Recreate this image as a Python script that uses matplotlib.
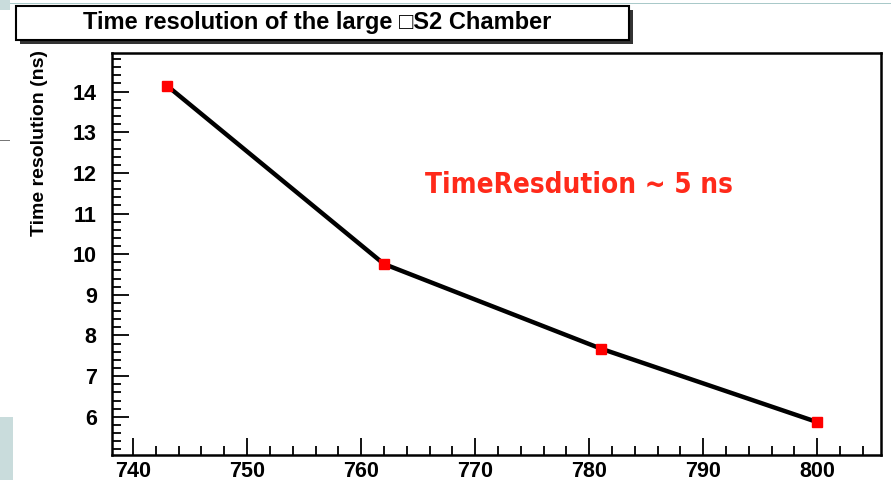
import numpy as np
import matplotlib.pyplot as plt
from matplotlib.patches import Rectangle
from matplotlib.ticker import MultipleLocator

# Data
voltage = [743, 762, 781, 800]
time_res = [14.14, 9.76, 7.68, 5.87]

x_ticks = [740, 750, 760, 770, 780, 790, 800]
y_ticks = [6, 7, 8, 9, 10, 11, 12, 13, 14]

title = "Time resolution of the large \u25A1S2 Chamber"
ylabel = "Time resolution (ns)"
note = "TimeResdution ~ 5 ns"

plt.rcParams['font.family'] = ['Liberation Sans', 'DejaVu Sans']

fig = plt.figure(figsize=(8.91, 4.8), dpi=100)
W, H = 891, 480

# axes placed in pixel coords of the frame
left, right, top, bottom = 112, 881, 53, 455
ax = fig.add_axes([left / W, 1 - bottom / H, (right - left) / W, (bottom - top) / H])

ax.plot(voltage, time_res, color='black', lw=3.2, zorder=2)
ax.plot(voltage, time_res, 's', color='red', ms=6.5, zorder=3)

ax.set_xlim(738.15, 805.6)
ax.set_ylim(5.06, 14.95)
ax.set_xticks(x_ticks)
ax.set_yticks(y_ticks)
ax.xaxis.set_minor_locator(MultipleLocator(2))
ax.yaxis.set_minor_locator(MultipleLocator(0.2))

ax.tick_params(which='both', direction='in', top=False, right=False, width=1.3)
ax.tick_params(which='major', length=12, labelsize=15.5)
ax.tick_params(axis='x', which='major', pad=4)
ax.tick_params(axis='y', which='major', pad=11)
ax.tick_params(which='minor', length=6.5)
for lab in ax.get_xticklabels() + ax.get_yticklabels():
    lab.set_fontweight('bold')
for sp in ax.spines.values():
    sp.set_linewidth(1.8)

# y label, ROOT style aligned to top of axis
fig.text(40 / W, 1 - 50 / H, ylabel, rotation=90, ha='center', va='top',
         fontsize=14, fontweight='bold')

# red annotation
fig.text(425 / W, 1 - 185 / H, note, color='#ff2a1a', fontsize=20,
         fontweight='bold', fontstretch='condensed', ha='left', va='center',
         family=['DejaVu Sans'])

# title box with shadow
fig.patches.append(Rectangle((20 / W, 1 - 44 / H), 613 / W, 34 / H,
                             transform=fig.transFigure, facecolor='#333333',
                             edgecolor='none', zorder=1))
fig.patches.append(Rectangle((16 / W, 1 - 40 / H), 613 / W, 34 / H,
                             transform=fig.transFigure, facecolor='white',
                             edgecolor='black', lw=1.5, zorder=2))
fig.text(317 / W, 1 - 22 / H, title, ha='center', va='center',
         fontsize=17, fontweight='bold', zorder=3)

# slide remnants around the picture
fig.patches.append(Rectangle((0, 1 - 4 / H), 1, 1.2 / H, transform=fig.transFigure,
                             facecolor='#a9c9c9', edgecolor='none'))
fig.patches.append(Rectangle((0, 0), 13 / W, 63 / H, transform=fig.transFigure,
                             facecolor='#c9dcdc', edgecolor='none'))
fig.patches.append(Rectangle((0, 1 - 10 / H), 10 / W, 10 / H, transform=fig.transFigure,
                             facecolor='#c9dcdc', edgecolor='none'))
fig.patches.append(Rectangle((0, 1 - 141 / H), 10 / W, 1.2 / H, transform=fig.transFigure,
                             facecolor='#777777', edgecolor='none'))

fig.savefig('out.png', dpi=100)
